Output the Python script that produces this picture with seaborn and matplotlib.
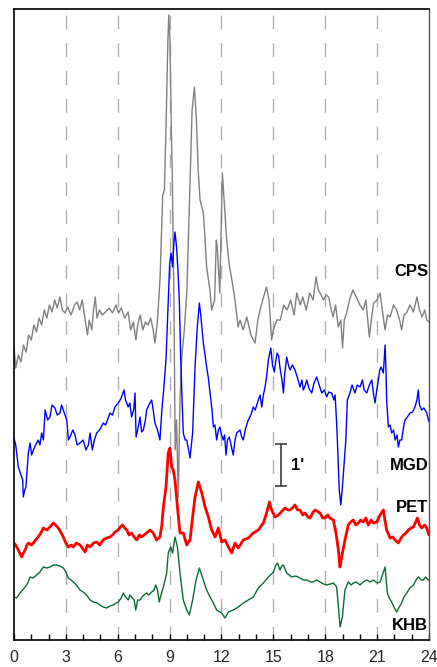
import numpy as np
import pandas as pd
import matplotlib
matplotlib.use("Agg")
import matplotlib.pyplot as plt
import seaborn as sns

# ---------------- data (heights in plot units; scale bar 1' = 42 units) ----------------
cps_hours = [0.0, 0.1, 0.25, 0.4, 0.55, 0.7, 0.85, 1.0, 1.15, 1.3, 1.45, 1.6, 1.75, 1.9, 2.05, 2.2,
             2.35, 2.5, 2.65, 2.8, 2.95, 3.1, 3.3, 3.5, 3.65, 3.8, 3.95, 4.1, 4.25, 4.35, 4.5, 4.6,
             4.7, 4.8, 4.95, 5.1, 5.3, 5.5, 5.7, 5.9, 6.05, 6.2, 6.4, 6.6, 6.75, 6.9, 7.05, 7.15,
             7.3, 7.45, 7.6, 7.75, 7.9, 8.05, 8.15, 8.3, 8.45, 8.6, 8.7, 8.8, 8.9, 8.95, 9.02, 9.1,
             9.15, 9.25, 9.32, 9.4, 9.5, 9.6, 9.7, 9.85, 10.0, 10.15, 10.3, 10.43, 10.55, 10.65,
             10.76, 10.95, 11.05, 11.14, 11.33, 11.43, 11.6, 11.7, 11.76, 11.9, 12.05, 12.15, 12.3,
             12.45, 12.6, 12.78, 12.96, 13.07, 13.25, 13.46, 13.7, 13.94, 14.1, 14.3, 14.6, 14.75,
             14.9, 15.0, 15.2, 15.4, 15.6, 15.8, 16.0, 16.2, 16.35, 16.55, 16.7, 16.9, 17.1, 17.3,
             17.47, 17.6, 17.7, 17.9, 18.05, 18.2, 18.35, 18.45, 18.6, 18.75, 18.9, 19.0, 19.1,
             19.24, 19.4, 19.6, 19.8, 20.0, 20.2, 20.35, 20.55, 20.7, 20.8, 21.0, 21.17, 21.3,
             21.46, 21.6, 21.75, 21.95, 22.13, 22.3, 22.42, 22.55, 22.7, 22.9, 23.1, 23.3, 23.45,
             23.6, 23.75, 23.87, 24.0]
cps_level = [293, 272, 285, 278, 295, 288, 305, 300, 315, 308, 322, 315, 330, 322, 335, 328,
             340, 332, 343, 330, 327, 333, 325, 335, 338, 330, 340, 322, 305, 320, 310, 330,
             343, 322, 330, 325, 328, 332, 327, 335, 327, 332, 322, 328, 310, 318, 300, 315,
             325, 310, 318, 315, 322, 310, 297, 320, 363, 445, 450, 520, 600, 625, 600, 510,
             470, 340, 190, 220, 143, 240, 283, 310, 350, 440, 530, 553, 520, 470,
             440, 427, 400, 373, 350, 330, 340, 400, 392, 347, 467, 440, 400,
             375, 360, 340, 313, 320, 310, 323, 305, 297, 320, 335, 353, 340,
             300, 310, 320, 320, 335, 330, 340, 325, 347, 335, 343, 330, 347, 340,
             363, 350, 347, 340, 345, 343, 330, 323, 335, 313, 320, 292, 320,
             327, 340, 350, 343, 335, 330, 340, 303, 325, 337, 340, 347, 330,
             310, 325, 323, 335, 330, 320, 310, 325, 327, 335, 328, 343, 330,
             323, 330, 320, 318]

mgd_hours = [0.0, 0.1, 0.25, 0.4, 0.5, 0.54, 0.62, 0.69, 0.76, 0.83, 0.93, 1.02, 1.12, 1.25, 1.4,
             1.5, 1.6, 1.7, 1.8, 1.95, 2.08, 2.2, 2.37, 2.5, 2.66, 2.75, 2.85, 3.05, 3.15, 3.24,
             3.4, 3.53, 3.65, 3.82, 4.0, 4.16, 4.3, 4.4, 4.53, 4.65, 4.78, 4.95, 5.16, 5.3, 5.55,
             5.7, 5.84, 6.03, 6.2, 6.36, 6.45, 6.6, 6.7, 6.8, 6.92, 7.0, 7.06, 7.15, 7.29, 7.38,
             7.48, 7.6, 7.67, 7.8, 7.96, 8.05, 8.15, 8.3, 8.44, 8.55, 8.64, 8.79, 8.92, 9.0, 9.08,
             9.17, 9.24, 9.31, 9.4, 9.48, 9.56, 9.64, 9.72, 9.79, 9.9, 9.99, 10.1, 10.18, 10.26,
             10.33, 10.4, 10.47, 10.6, 10.72, 10.8, 10.95, 11.05, 11.14, 11.24, 11.34, 11.45,
             11.53, 11.62, 11.72, 11.82, 11.91, 12.0, 12.1, 12.18, 12.26, 12.35, 12.45, 12.55,
             12.68, 12.78, 12.88, 13.07, 13.17, 13.26, 13.4, 13.55, 13.7, 13.84, 13.95, 14.13,
             14.23, 14.33, 14.42, 14.52, 14.62, 14.71, 14.85, 14.95, 15.05, 15.15, 15.22, 15.3,
             15.4, 15.5, 15.58, 15.65, 15.77, 15.87, 15.96, 16.1, 16.25, 16.4, 16.54, 16.65,
             16.73, 16.85, 16.93, 17.05, 17.22, 17.35, 17.5, 17.65, 17.8, 17.95, 18.08, 18.2,
             18.37, 18.5, 18.57, 18.65, 18.7, 18.81, 18.9, 18.98, 19.05, 19.12, 19.19, 19.28,
             19.43, 19.55, 19.72, 19.85, 20.01, 20.15, 20.25, 20.4, 20.55, 20.69, 20.8, 20.88,
             20.98, 21.07, 21.15, 21.23, 21.36, 21.46, 21.52, 21.55, 21.65, 21.75, 21.84, 21.95,
             22.04, 22.15, 22.23, 22.32, 22.42, 22.52, 22.61, 22.75, 22.9, 23.05, 23.19, 23.3,
             23.38, 23.45, 23.58, 23.7, 23.87, 24.0]
mgd_level = [202, 195, 173, 165, 160, 143, 150, 153, 170, 187, 197, 185, 190, 195, 200,
             195, 207, 200, 230, 220, 223, 235, 232, 225, 227, 235, 230, 220, 200, 203,
             210, 205, 195, 197, 200, 190, 195, 207, 190, 200, 207, 210, 217, 215, 227,
             225, 233, 237, 242, 250, 240, 233, 237, 223, 230, 247, 203, 210, 223, 208,
             210, 220, 230, 235, 240, 230, 217, 210, 200, 230, 247, 280, 340, 375, 387,
             373, 395, 408, 393, 370, 340, 283, 240, 207, 200, 200, 190, 182, 195,
             207, 240, 273, 313, 337, 325, 297, 285, 273, 262, 247, 230,
             213, 215, 200, 210, 213, 205, 200, 205, 185, 200, 203, 195,
             185, 200, 207, 210, 203, 200, 212, 220, 225, 233, 230, 240,
             245, 233, 245, 253, 265, 280, 292, 275, 268, 280, 287, 284,
             270, 260, 247, 265, 283, 275, 270, 275, 270, 262, 253, 260,
             250, 255, 260, 252, 247, 257, 263, 255, 247, 250, 243, 248,
             247, 240, 245, 220, 200, 150, 135, 150, 167, 185, 200, 240,
             247, 255, 247, 255, 253, 260, 250, 247, 255, 260, 245, 237,
             250, 260, 270, 273, 267, 295, 265, 240, 213, 215, 207, 210,
             200, 205, 193, 200, 200, 212, 220, 223, 227, 228, 233, 240,
             250, 235, 230, 232, 227, 218]

pet_hours = [0.0, 0.1, 0.25, 0.44, 0.55, 0.64, 0.75, 0.83, 1.0, 1.12, 1.25, 1.4, 1.55, 1.7, 1.9,
             2.08, 2.27, 2.4, 2.56, 2.7, 2.85, 3.0, 3.14, 3.3, 3.43, 3.6, 3.82, 3.95, 4.11, 4.25,
             4.4, 4.6, 4.78, 4.95, 5.16, 5.35, 5.55, 5.7, 5.84, 6.03, 6.15, 6.28, 6.4, 6.52, 6.65,
             6.8, 6.95, 7.1, 7.25, 7.38, 7.52, 7.67, 7.87, 8.05, 8.25, 8.44, 8.55, 8.64, 8.79,
             8.92, 9.02, 9.12, 9.21, 9.31, 9.45, 9.6, 9.79, 9.99, 10.18, 10.33, 10.47, 10.66,
             10.86, 11.05, 11.24, 11.43, 11.63, 11.82, 12.01, 12.2, 12.4, 12.59, 12.78, 12.97,
             13.26, 13.55, 13.84, 14.13, 14.42, 14.61, 14.77, 14.9, 15.1, 15.29, 15.45, 15.67,
             15.85, 15.96, 16.1, 16.25, 16.4, 16.54, 16.7, 16.83, 17.0, 17.12, 17.3, 17.41, 17.6,
             17.7, 17.85, 17.99, 18.15, 18.27, 18.47, 18.62, 18.76, 18.85, 18.95, 19.14, 19.33,
             19.47, 19.62, 19.77, 19.91, 20.05, 20.2, 20.35, 20.49, 20.65, 20.78, 20.98, 21.17,
             21.36, 21.45, 21.55, 21.75, 21.9, 22.04, 22.23, 22.38, 22.52, 22.67, 22.81, 22.95,
             23.1, 23.2, 23.33, 23.45, 23.58, 23.75, 23.87, 24.0]
pet_level = [97, 95, 90, 83, 87, 90, 95, 97, 95, 97, 100, 103, 107, 112, 110,
             113, 117, 115, 112, 108, 103, 97, 93, 95, 93, 97, 95, 92, 88, 95,
             93, 97, 98, 95, 100, 102, 103, 105, 108, 110, 113, 115, 112, 110, 105,
             107, 103, 100, 105, 103, 105, 107, 110, 107, 100, 103, 115, 133, 153,
             187, 192, 173, 170, 160, 133, 107, 107, 95, 100, 123, 143, 158,
             147, 133, 123, 110, 103, 112, 98, 100, 93, 87, 97, 92,
             100, 102, 107, 110, 117, 127, 138, 130, 123, 125, 128, 132,
             130, 130, 132, 135, 130, 130, 125, 127, 123, 122, 128, 130, 128,
             127, 122, 122, 125, 122, 120, 107, 90, 73, 83, 100, 115,
             118, 120, 115, 117, 120, 118, 122, 115, 120, 117, 118, 125,
             130, 120, 110, 102, 103, 100, 97, 102, 105, 107, 110, 112,
             113, 117, 122, 115, 112, 115, 112, 105]

khb_hours = [0.0, 0.15, 0.35, 0.5, 0.64, 0.8, 0.93, 1.1, 1.31, 1.5, 1.7, 1.9, 2.08, 2.3, 2.47,
             2.65, 2.85, 3.0, 3.14, 3.3, 3.43, 3.6, 3.82, 4.0, 4.2, 4.4, 4.59, 4.8, 4.97, 5.15,
             5.36, 5.55, 5.74, 5.9, 6.03, 6.2, 6.32, 6.45, 6.61, 6.7, 6.8, 6.95, 7.04, 7.15, 7.29,
             7.45, 7.67, 7.8, 7.96, 8.1, 8.19, 8.3, 8.4, 8.5, 8.64, 8.83, 8.92, 9.06, 9.17, 9.31,
             9.45, 9.6, 9.79, 9.99, 10.14, 10.33, 10.53, 10.72, 10.95, 11.14, 11.34, 11.53, 11.72,
             12.01, 12.2, 12.4, 12.68, 12.97, 13.26, 13.55, 13.84, 14.13, 14.42, 14.71, 15.0,
             15.15, 15.25, 15.38, 15.48, 15.58, 15.77, 16.06, 16.3, 16.54, 16.75, 16.93, 17.15,
             17.31, 17.5, 17.7, 17.9, 18.08, 18.3, 18.47, 18.66, 18.76, 18.86, 18.99, 19.14,
             19.33, 19.5, 19.62, 19.8, 20.01, 20.2, 20.4, 20.6, 20.78, 21.0, 21.17, 21.36, 21.46,
             21.59, 21.7, 21.84, 22.0, 22.13, 22.28, 22.42, 22.55, 22.71, 22.9, 23.1, 23.25,
             23.39, 23.55, 23.67, 23.8, 23.96, 24.0]
khb_level = [43, 42, 47, 50, 53, 57, 63, 62, 65, 68, 73, 72, 73, 75, 75,
             74, 72, 68, 62, 60, 58, 55, 50, 48, 45, 40, 38, 37, 35, 33,
             32, 34, 35, 37, 38, 42, 47, 43, 40, 45, 43, 40, 30, 40, 40,
             44, 47, 45, 48, 50, 55, 50, 38, 45, 53, 67, 87, 93, 87, 103,
             93, 67, 40, 30, 25, 40, 60, 72, 60, 50, 43, 37, 30,
             27, 22, 28, 30, 33, 37, 40, 43, 52, 57, 63, 68,
             75, 77, 70, 74, 75, 67, 63, 64, 62, 60, 60, 58,
             58, 60, 58, 56, 55, 56, 57, 53, 33, 13, 23, 50,
             58, 55, 57, 58, 55, 58, 60, 58, 60, 57, 58, 68, 73,
             47, 42, 38, 32, 28, 33, 37, 43, 47, 52, 55, 60,
             63, 60, 60, 63, 60, 60]

series_names = ["CPS", "MGD", "PET", "KHB"]
series_colors = {"CPS": "#808080", "MGD": "#0000ff", "PET": "#ff0000", "KHB": "#0b6b33"}
series_widths = {"CPS": 1.0, "MGD": 1.0, "PET": 2.0, "KHB": 1.0}
label_levels = {"CPS": 368, "MGD": 175, "PET": 133, "KHB": 14}

x_ticks = [0, 3, 6, 9, 12, 15, 18, 21, 24]
grid_hours = [3, 6, 9, 12, 15, 18, 21]

scale_hour = 15.45
scale_bottom = 154
scale_length = 42   # one arc-minute
scale_label = "1'"

frames = []
for name, hrs, lev in [("CPS", cps_hours, cps_level), ("MGD", mgd_hours, mgd_level),
                       ("PET", pet_hours, pet_level), ("KHB", khb_hours, khb_level)]:
    frames.append(pd.DataFrame({"hour": hrs, "level": lev, "series": name}))
df = pd.concat(frames, ignore_index=True)

# ---------------- plotting ----------------
sns.set_theme(style="white")
plt.rcParams["font.family"] = ["Liberation Sans", "DejaVu Sans"]

W, H = 437, 667
fig = plt.figure(figsize=(W / 100, H / 100), dpi=100)
ax = fig.add_axes([14 / W, 27 / H, 415 / W, 631 / H])

for g in grid_hours:
    ax.axvline(g, color="#b0b0b0", lw=1.0, ls=(0, (10, 10)), zorder=0)

for name in series_names:
    sub = df[df["series"] == name]
    sns.lineplot(data=sub, x="hour", y="level", color=series_colors[name],
                 lw=series_widths[name], estimator=None, sort=False, ax=ax, legend=False)
    ax.text(23.95, label_levels[name], name, ha="right", va="center",
            fontsize=12, fontweight="bold", color="black")

# scale bar
ax.plot([scale_hour, scale_hour], [scale_bottom, scale_bottom + scale_length],
        color="#404040", lw=1.2)
ax.plot([scale_hour, scale_hour], [scale_bottom, scale_bottom + scale_length],
        ls="none", marker="_", ms=8, mew=1.2, color="#404040")
ax.text(scale_hour + 0.55, scale_bottom + scale_length / 2, scale_label, ha="left",
        va="center", fontsize=12, fontweight="bold", color="black")

ax.set_xlim(0, 24)
ax.set_ylim(0, 631)
ax.set_xticks(x_ticks)
ax.set_xticks(range(0, 25), minor=True)
ax.set_yticks([])
ax.set_xlabel("")
ax.set_ylabel("")
ax.tick_params(axis="x", which="both", direction="in", length=4, width=1,
               color="black", bottom=True, top=False, labelsize=11.5, pad=7)
for side in ["left", "bottom", "top"]:
    ax.spines[side].set_color("black")
    ax.spines[side].set_linewidth(1.2)
ax.spines["right"].set_color("#555555")
ax.spines["right"].set_linewidth(1.0)

fig.savefig("out.png", dpi=100)
